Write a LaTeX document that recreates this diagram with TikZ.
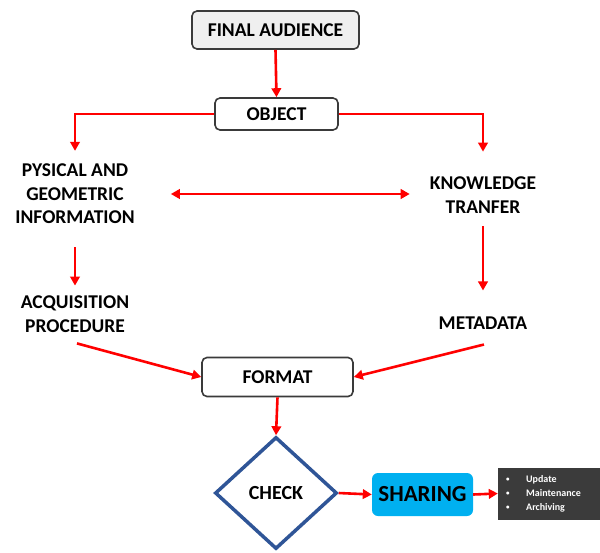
\documentclass[tikz,border=0pt]{standalone}
\usepackage{fontspec}
\setmainfont{Carlito}
\usetikzlibrary{arrows.meta,shapes.geometric}
\definecolor{boxgray}{HTML}{EFEFEF}
\definecolor{boxline}{HTML}{3A3A3A}
\definecolor{diablue}{HTML}{2F5597}
\definecolor{shareblue}{HTML}{00B0F0}
\definecolor{darkbox}{HTML}{3B3B3B}
\tikzset{
  flowbox/.style={draw=boxline, line width=1.6pt, rounded corners=5pt, fill=white, minimum height=34pt, font=\fontsize{19.5}{22}\selectfont\bfseries},
  plainlabel/.style={align=center, inner sep=0pt, font=\fontsize{19.5}{23.5}\selectfont\bfseries},
  redarrow/.style={draw=red, line width=2.6pt, -{Triangle[length=9pt,width=9.5pt]}},
}
\newcommand{\smallbul}{\makebox[20pt][l]{\raisebox{1pt}{\scalebox{0.7}{\textbullet}}}}
\begin{document}
\begin{tikzpicture}[x=1pt,y=-1pt]
\useasboundingbox (0,0) rectangle (600,552);
% boxes
\node[flowbox, fill=boxgray, minimum width=167pt, minimum height=38pt] (aud) at (275.5,30) {FINAL AUDIENCE};
\node[flowbox, minimum width=123pt, minimum height=32pt] (obj) at (276.5,114) {OBJECT};
\node[plainlabel] (pys) at (75,194) {PYSICAL AND\\GEOMETRIC\\INFORMATION};
\node[plainlabel] (know) at (483,195) {KNOWLEDGE\\TRANFER};
\node[plainlabel] (acq) at (75,314) {ACQUISITION\\PROCEDURE};
\node[plainlabel] (meta) at (483,323) {METADATA};
\node[flowbox, minimum width=151pt, minimum height=39pt] (fmt) at (277.5,377) {FORMAT};
\node[diamond, draw=diablue, line width=3.5pt, fill=white, minimum width=122pt, minimum height=112pt, inner sep=0pt, font=\fontsize{20}{22}\selectfont\bfseries] (chk) at (276,493) {CHECK};
\node[fill=shareblue, rounded corners=6pt, minimum width=101pt, minimum height=43pt, font=\fontsize{23}{24}\selectfont\bfseries] (shr) at (422.5,494.5) {SHARING};
\node[fill=darkbox, draw=darkbox, minimum width=102pt, minimum height=51pt, inner sep=0pt] (lst) at (549,493.5) {};
\node[anchor=west, inner sep=0pt, text=white, font=\fontsize{10}{14}\selectfont\bfseries, align=left] (lsttext) at (506,494)
  {\smallbul Update\\\smallbul Maintenance\\\smallbul Archiving};
% connectors
\draw[redarrow] (aud.south) -- (obj.north);
\draw[redarrow] (obj.west) -| ([yshift=13pt]pys.north);
\draw[redarrow] (obj.east) -| ([yshift=25pt]know.north);
\draw[redarrow, {Triangle[length=9pt,width=9.5pt]}-{Triangle[length=9pt,width=9.5pt]}] ([xshift=36pt]pys.east) -- ([xshift=-20pt]know.west |- pys.east);
\draw[redarrow] ([yshift=-23pt]pys.south) -- ([yshift=10pt]acq.north);
\draw[redarrow] ([yshift=-13pt]know.south) -- ([yshift=26pt]meta.north);
\draw[redarrow] ([xshift=2pt,yshift=-11pt]acq.south) -- (fmt.west);
\draw[redarrow] ([xshift=1pt,yshift=-15pt]meta.south) -- (fmt.east);
\draw[redarrow] (fmt.south) -- (chk.north);
\draw[redarrow] (chk.east) -- (shr.west);
\draw[redarrow] (shr.east) -- (lst.west);
\end{tikzpicture}
\end{document}
